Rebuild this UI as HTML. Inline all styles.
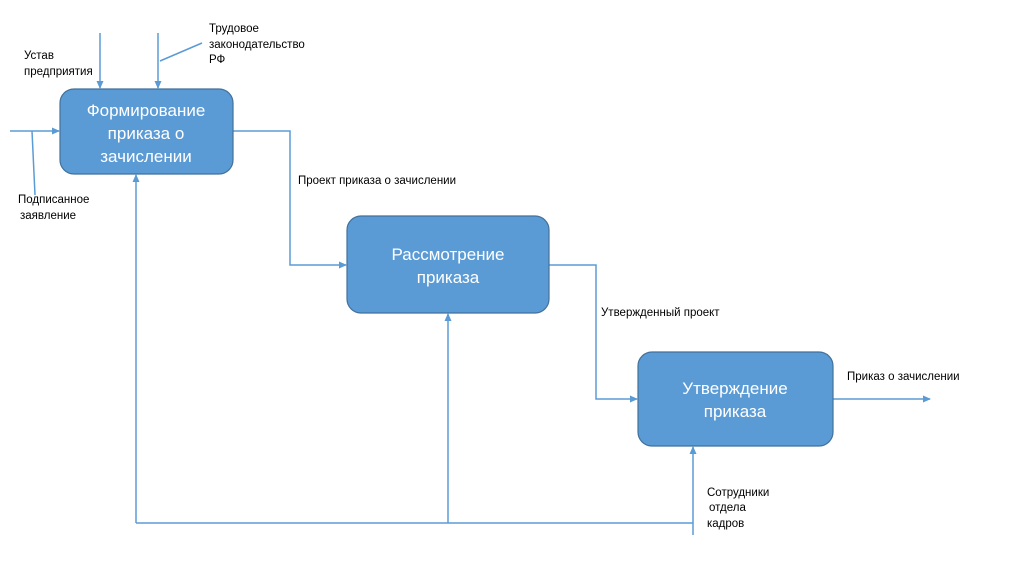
<!DOCTYPE html>
<html><head><meta charset="utf-8"><style>
body{margin:0;background:#fff;width:1024px;height:574px;overflow:hidden}
svg text{font-family:"Liberation Sans","DejaVu Sans",sans-serif}
</style></head><body>
<svg width="1024" height="574" viewBox="0 0 1024 574" xmlns="http://www.w3.org/2000/svg">
<defs><marker id="a" markerWidth="8" markerHeight="8" refX="7" refY="4" orient="auto" markerUnits="userSpaceOnUse"><path d="M0,0.5 L8,4 L0,7.5 Z" fill="#5b9bd5"/></marker></defs>
<g stroke="#5b9bd5" stroke-width="1.5" fill="none">
<line x1="10" y1="131" x2="59" y2="131" marker-end="url(#a)"/>
<line x1="32" y1="131" x2="35" y2="195"/>
<line x1="100" y1="33" x2="100" y2="88" marker-end="url(#a)"/>
<line x1="158" y1="33" x2="158" y2="88" marker-end="url(#a)"/>
<line x1="160" y1="61" x2="202" y2="43"/>
<polyline points="233,131 290,131 290,265 346,265" marker-end="url(#a)"/>
<polyline points="549,265 596,265 596,399 637,399" marker-end="url(#a)"/>
<line x1="833" y1="399" x2="930" y2="399" marker-end="url(#a)"/>
<line x1="136" y1="523" x2="693" y2="523"/>
<line x1="136" y1="523" x2="136" y2="175" marker-end="url(#a)"/>
<line x1="448" y1="523" x2="448" y2="314" marker-end="url(#a)"/>
<line x1="693" y1="535" x2="693" y2="447" marker-end="url(#a)"/>
</g>
<g fill="#5b9bd5" stroke="#41719c" stroke-width="1.2">
<rect x="60" y="89" width="173" height="85" rx="14"/>
<rect x="347" y="216" width="202" height="97" rx="14"/>
<rect x="638" y="352" width="195" height="94" rx="14"/>
</g>
<g fill="#fff" font-size="17" text-anchor="middle">
<text x="146" y="116">Формирование</text>
<text x="146" y="139">приказа о</text>
<text x="146" y="162">зачислении</text>
<text x="448" y="260">Рассмотрение</text>
<text x="448" y="283">приказа</text>
<text x="735" y="394">Утверждение</text>
<text x="735" y="417">приказа</text>
</g>
<g fill="#000" font-size="11.5">
<text x="24" y="59">Устав</text>
<text x="24" y="75">предприятия</text>
<text x="209" y="32">Трудовое</text>
<text x="209" y="48">законодательство</text>
<text x="209" y="63">РФ</text>
<text x="18" y="203">Подписанное</text>
<text x="20" y="219">заявление</text>
<text x="298" y="184">Проект приказа о зачислении</text>
<text x="601" y="316">Утвержденный проект</text>
<text x="847" y="380">Приказ о зачислении</text>
<text x="707" y="496">Сотрудники</text>
<text x="709" y="511">отдела</text>
<text x="707" y="527">кадров</text>
</g>
</svg>
</body></html>
